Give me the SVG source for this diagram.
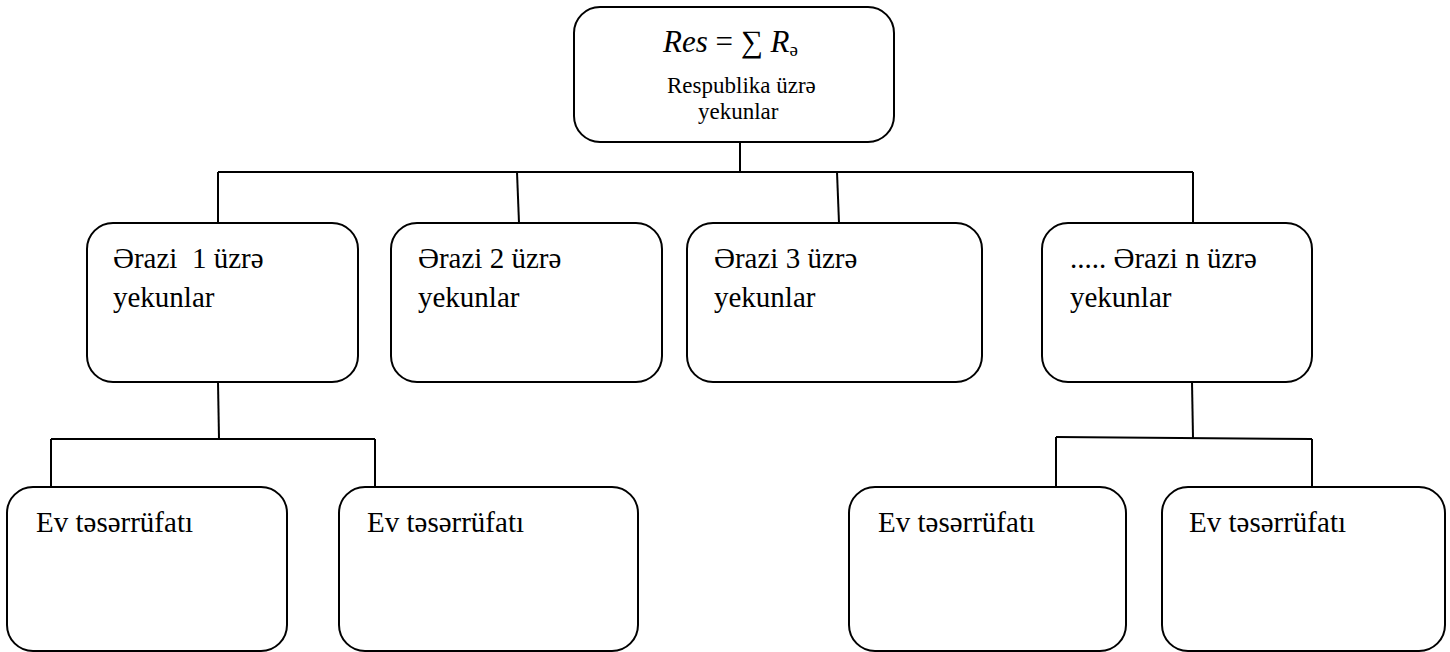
<svg xmlns="http://www.w3.org/2000/svg" width="1450" height="652" viewBox="0 0 1450 652">
<style>
.box{fill:#fff;stroke:#000;stroke-width:2}
.ln{fill:none;stroke:#000;stroke-width:2}
</style>
<rect width="1450" height="652" fill="#fff"/>
<g id="connectors">
<line class="ln" x1="740" y1="142" x2="740" y2="172"/>
<line class="ln" x1="218" y1="172" x2="1193" y2="172"/>
<line class="ln" x1="218" y1="172" x2="218" y2="223"/>
<line class="ln" x1="517" y1="172" x2="519" y2="223"/>
<line class="ln" x1="837" y1="172" x2="839" y2="223"/>
<line class="ln" x1="1193" y1="172" x2="1193" y2="223"/>
<line class="ln" x1="218" y1="382" x2="219" y2="439"/>
<line class="ln" x1="51" y1="439" x2="375" y2="439"/>
<line class="ln" x1="51" y1="439" x2="51" y2="487"/>
<line class="ln" x1="375" y1="439" x2="375" y2="487"/>
<line class="ln" x1="1192" y1="382" x2="1193" y2="438"/>
<line class="ln" x1="1056" y1="437" x2="1312" y2="439"/>
<line class="ln" x1="1056" y1="437" x2="1056" y2="487"/>
<line class="ln" x1="1312" y1="439" x2="1312" y2="487"/>
</g>
<g id="top">
<rect class="box" x="574" y="7" width="320" height="135" rx="26"/>
<text x="663" y="52" font-family="'Liberation Serif','Noto Serif',serif" font-size="31" fill="#000"><tspan font-style="italic">Res</tspan> = ∑ <tspan font-style="italic">R</tspan><tspan font-size="19" dy="4">ə</tspan></text>
<text font-family="'Liberation Serif','Noto Serif',serif" font-size="23" fill="#000"><tspan x="667" y="93">Respublika üzrə</tspan><tspan x="698" y="119">yekunlar</tspan></text>
</g>
<g id="erazi1">
<rect class="box" x="87" y="223" width="271" height="159" rx="26"/>
<text font-family="'Liberation Serif','Noto Serif',serif" font-size="29" fill="#000" xml:space="preserve"><tspan x="113" y="268">Ərazi  1 üzrə</tspan><tspan x="113" y="307">yekunlar</tspan></text>
</g>
<g id="erazi2">
<rect class="box" x="391" y="223" width="271" height="159" rx="26"/>
<text font-family="'Liberation Serif','Noto Serif',serif" font-size="29" fill="#000"><tspan x="418" y="268">Ərazi 2 üzrə</tspan><tspan x="418" y="307">yekunlar</tspan></text>
</g>
<g id="erazi3">
<rect class="box" x="687" y="223" width="295" height="159" rx="26"/>
<text font-family="'Liberation Serif','Noto Serif',serif" font-size="29" fill="#000"><tspan x="714" y="268">Ərazi 3 üzrə</tspan><tspan x="714" y="307">yekunlar</tspan></text>
</g>
<g id="erazin">
<rect class="box" x="1042" y="223" width="270" height="159" rx="26"/>
<text font-family="'Liberation Serif','Noto Serif',serif" font-size="29" fill="#000"><tspan x="1070" y="268">..... Ərazi n üzrə</tspan><tspan x="1070" y="307">yekunlar</tspan></text>
</g>
<g id="ev1">
<rect class="box" x="7" y="487" width="280" height="164" rx="26"/>
<text x="36" y="532" font-family="'Liberation Serif','Noto Serif',serif" font-size="29" fill="#000">Ev təsərrüfatı</text>
</g>
<g id="ev2">
<rect class="box" x="339" y="487" width="299" height="164" rx="26"/>
<text x="367" y="532" font-family="'Liberation Serif','Noto Serif',serif" font-size="29" fill="#000">Ev təsərrüfatı</text>
</g>
<g id="ev3">
<rect class="box" x="849" y="487" width="277" height="164" rx="26"/>
<text x="878" y="532" font-family="'Liberation Serif','Noto Serif',serif" font-size="29" fill="#000">Ev təsərrüfatı</text>
</g>
<g id="ev4">
<rect class="box" x="1162" y="487" width="283" height="164" rx="26"/>
<text x="1189" y="532" font-family="'Liberation Serif','Noto Serif',serif" font-size="29" fill="#000">Ev təsərrüfatı</text>
</g>
</svg>
